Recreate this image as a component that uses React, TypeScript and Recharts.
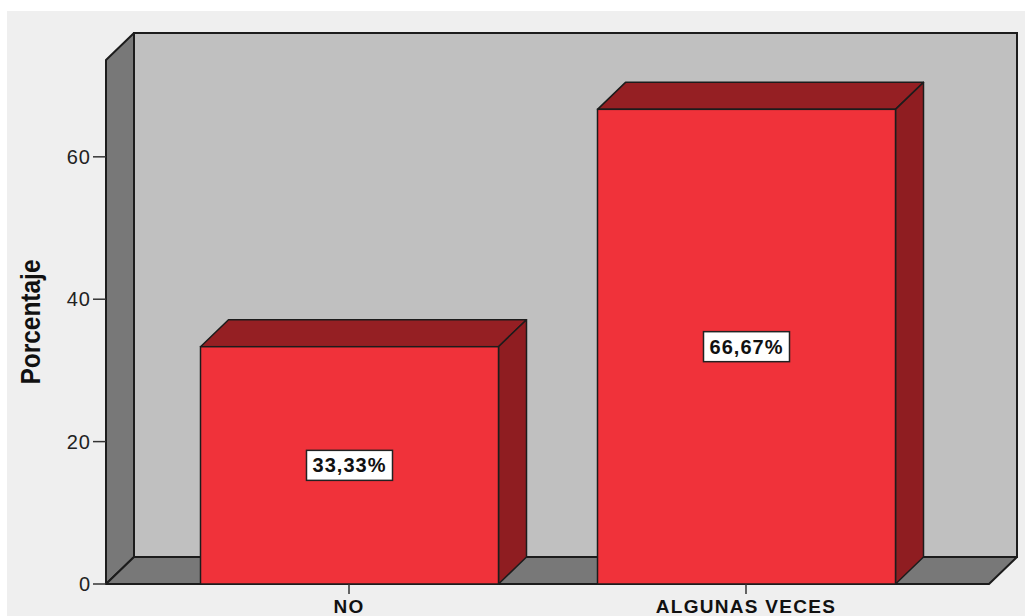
import React from 'react';
import { BarChart, Bar, XAxis, YAxis, ReferenceArea, LabelList } from 'recharts';

const categories = ['NO', 'ALGUNAS VECES'];
const percentages = [33.33, 66.67];
const percentLabels = ['33,33%', '66,67%'];
const yTicks = [0, 20, 40, 60];
const yMax = 73.6;

const data = categories.map((category, i) => ({
  category,
  value: percentages[i],
  label: percentLabels[i],
}));

// depth of the fake 3D projection
const DX = 28;
const DY = 27;
const EDGE = '#1c1c1c';

function Walls(props: any) {
  const { x, y, width: w, height: h } = props;
  return (
    <g>
      <rect x={x + DX} y={y - DY} width={w} height={h} fill="#c0c0c0" stroke={EDGE} strokeWidth={2} />
      <polygon
        points={`${x},${y} ${x + DX},${y - DY} ${x + DX},${y + h - DY} ${x},${y + h}`}
        fill="#787878"
        stroke={EDGE}
        strokeWidth={2}
        strokeLinejoin="round"
      />
      <polygon
        points={`${x},${y + h} ${x + DX},${y + h - DY} ${x + w + DX},${y + h - DY} ${x + w},${y + h}`}
        fill="#787878"
        stroke={EDGE}
        strokeWidth={2}
        strokeLinejoin="round"
      />
    </g>
  );
}

function Bar3D(props: any) {
  const { x, y, width: w, height: h } = props;
  return (
    <g>
      <polygon
        points={`${x},${y} ${x + DX},${y - DY} ${x + w + DX},${y - DY} ${x + w},${y}`}
        fill="#951f23"
        stroke={EDGE}
        strokeWidth={1.5}
        strokeLinejoin="round"
      />
      <polygon
        points={`${x + w},${y} ${x + w + DX},${y - DY} ${x + w + DX},${y + h - DY} ${x + w},${y + h}`}
        fill="#8f1d21"
        stroke={EDGE}
        strokeWidth={1.5}
        strokeLinejoin="round"
      />
      <rect x={x} y={y} width={w} height={h} fill="#f0323a" stroke={EDGE} strokeWidth={1.5} />
    </g>
  );
}

function ValueBox(props: any) {
  const { x, y, width, height, value } = props;
  const cx = x + width / 2;
  const cy = y + height / 2;
  return (
    <g>
      <rect x={cx - 43} y={cy - 15} width={86} height={30} fill="#ffffff" stroke="#222" strokeWidth={1.5} />
      <text
        x={cx}
        y={cy + 7}
        textAnchor="middle"
        fontSize={20}
        fontWeight="bold"
        letterSpacing={1}
        fill="#111"
      >
        {value}
      </text>
    </g>
  );
}

export default function App() {
  return (
    <div
      style={{
        position: 'absolute',
        left: 7,
        top: 11,
        width: 1018,
        height: 605,
        background: '#efefef',
      }}
    >
      <BarChart
        width={1018}
        height={605}
        data={data}
        margin={{ top: 49, right: 36, bottom: 0, left: 0 }}
        style={{ fontFamily: '"Liberation Sans", Arial, sans-serif' }}
      >
        <XAxis xAxisId="wall" type="number" domain={[0, 1]} hide />
        <XAxis
          dataKey="category"
          height={32}
          padding={{ left: 44.5, right: 44.5 }}
          axisLine={false}
          tickLine={{ stroke: '#333', strokeWidth: 1.5 }}
          tickSize={10}
          tickMargin={6}
          tick={{ fontSize: 19, fontWeight: 'bold', fill: '#111', letterSpacing: 1.3 }}
          interval={0}
        />
        <YAxis
          width={99}
          domain={[0, yMax]}
          ticks={yTicks}
          axisLine={false}
          tickLine={{ stroke: '#333', strokeWidth: 1.5 }}
          tickSize={13}
          tickMargin={2}
          tick={{ fontSize: 20, fill: '#222', letterSpacing: 1 }}
          label={{
            content: ({ viewBox }: any) => {
              const cx = viewBox.x + 23.5;
              const cy = viewBox.y + viewBox.height / 2;
              return (
                <text
                  x={cx}
                  y={cy}
                  transform={`rotate(-90 ${cx} ${cy})`}
                  textAnchor="middle"
                  dominantBaseline="central"
                  fontSize={27}
                  fontWeight="bold"
                  textLength={125}
                  lengthAdjust="spacingAndGlyphs"
                  fill="#111"
                >
                  Porcentaje
                </text>
              );
            },
          }}
        />
        <ReferenceArea
          xAxisId="wall"
          x1={0}
          x2={1}
          y1={0}
          y2={yMax}
          ifOverflow="visible"
          shape={(p: any) => <Walls {...p} />}
        />
        <Bar dataKey="value" barSize={298} shape={(p: any) => <Bar3D {...p} />} isAnimationActive={false}>
          <LabelList dataKey="label" content={(p: any) => <ValueBox {...p} />} />
        </Bar>
      </BarChart>
    </div>
  );
}
